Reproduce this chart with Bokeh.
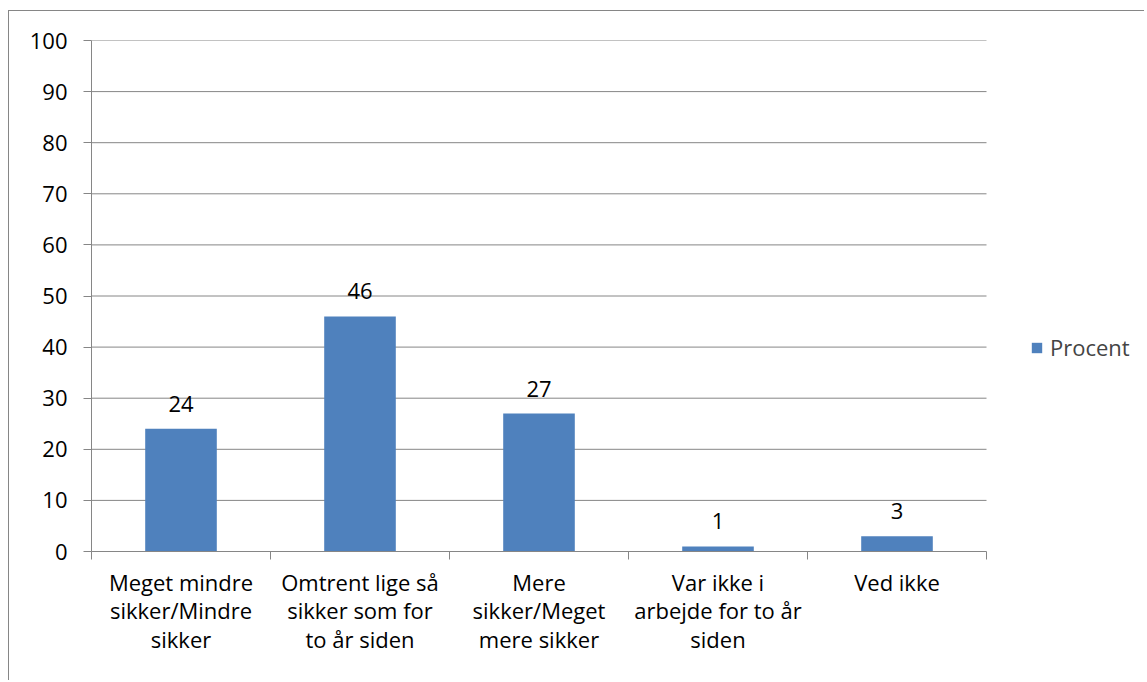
from bokeh.plotting import figure
from bokeh.models import Range1d, FixedTicker, Legend, LegendItem, ColumnDataSource
from bokeh.core.properties import value
from bokeh.embed import file_html
from bokeh.resources import INLINE

categories = [
    "Meget mindre\nsikker/Mindre\nsikker",
    "Omtrent lige så\nsikker som for\nto år siden",
    "Mere\nsikker/Meget\nmere sikker",
    "Var ikke i\narbejde for to år\nsiden",
    "Ved ikke",
]
procent = [24, 46, 27, 1, 3]
series_name = "Procent"
y_ticks = [0, 10, 20, 30, 40, 50, 60, 70, 80, 90, 100]

FONT = "Open Sans"
FS = "22px"
GRAY = "#868686"
BLUE = "#4F81BD"

# layout (pixels)
FIG_W, FIG_H = 1136, 670
B_LEFT, B_TOP, B_BOTTOM, B_RIGHT = 82, 29, 130, 0
PLOT_AREA_W = 895  # width of the category area inside the frame
frame_w = FIG_W - B_LEFT - B_RIGHT
n = len(categories)
x_end = n * frame_w / PLOT_AREA_W

xs = [i + 0.5 for i in range(n)]
src = ColumnDataSource(dict(x=xs, top=procent, label=[str(v) for v in procent]))

p = figure(width=FIG_W, height=FIG_H, output_backend="svg", toolbar_location=None,
           x_range=Range1d(0, x_end), y_range=Range1d(y_ticks[0], y_ticks[-1]),
           min_border_left=B_LEFT, min_border_top=B_TOP, min_border_bottom=B_BOTTOM,
           min_border_right=B_RIGHT)
p.styles = {"margin-left": "8px", "margin-top": "10px",
            "border-left": f"1px solid {GRAY}", "border-top": f"1px solid {GRAY}"}
p.outline_line_color = None
p.background_fill_color = "white"
p.border_fill_color = "white"
p.xgrid.grid_line_color = None
p.ygrid.grid_line_color = None

# horizontal gridlines limited to the category area
gl = [t for t in y_ticks if t > 0]
p.segment(x0=[0] * len(gl), x1=[n] * len(gl), y0=gl, y1=gl, line_color=GRAY, line_width=1)

bars = p.vbar(x="x", top="top", width=0.4, source=src, fill_color=BLUE, line_color=None)
p.text(x="x", y="top", text="label", source=src, text_align="center", text_baseline="bottom",
       y_offset=-17, text_font=value(FONT), text_font_size=FS, text_color="black")

# x axis
xa = p.xaxis[0]
xa.bounds = (0, n)
xa.ticker = FixedTicker(ticks=xs, minor_ticks=list(range(n + 1)))
xa.major_label_overrides = {x: c for x, c in zip(xs, categories)}
xa.major_tick_out = 0
xa.major_tick_in = 0
xa.minor_tick_out = 8
xa.minor_tick_in = 0
xa.minor_tick_line_color = GRAY
xa.axis_line_color = GRAY
xa.major_label_text_font = FONT
xa.major_label_text_font_size = FS
xa.major_label_text_color = "black"
xa.major_label_text_line_height = 0.96
xa.major_label_standoff = 7

# y axis
ya = p.yaxis[0]
ya.ticker = FixedTicker(ticks=y_ticks, minor_ticks=[])
ya.major_tick_out = 8
ya.major_tick_in = 0
ya.major_tick_line_color = GRAY
ya.minor_tick_line_color = None
ya.axis_line_color = GRAY
ya.major_label_text_font = FONT
ya.major_label_text_font_size = FS
ya.major_label_text_color = "black"
ya.major_label_standoff = 16

legend = Legend(items=[LegendItem(label=series_name, renderers=[bars])],
                location=(939, 189), padding=0, spacing=0, margin=0,
                glyph_width=13, glyph_height=13, label_standoff=7,
                label_text_font=FONT, label_text_font_size=FS,
                border_line_color=None, background_fill_alpha=0)
p.add_layout(legend)

open("out.html", "w").write(file_html(p, INLINE))
